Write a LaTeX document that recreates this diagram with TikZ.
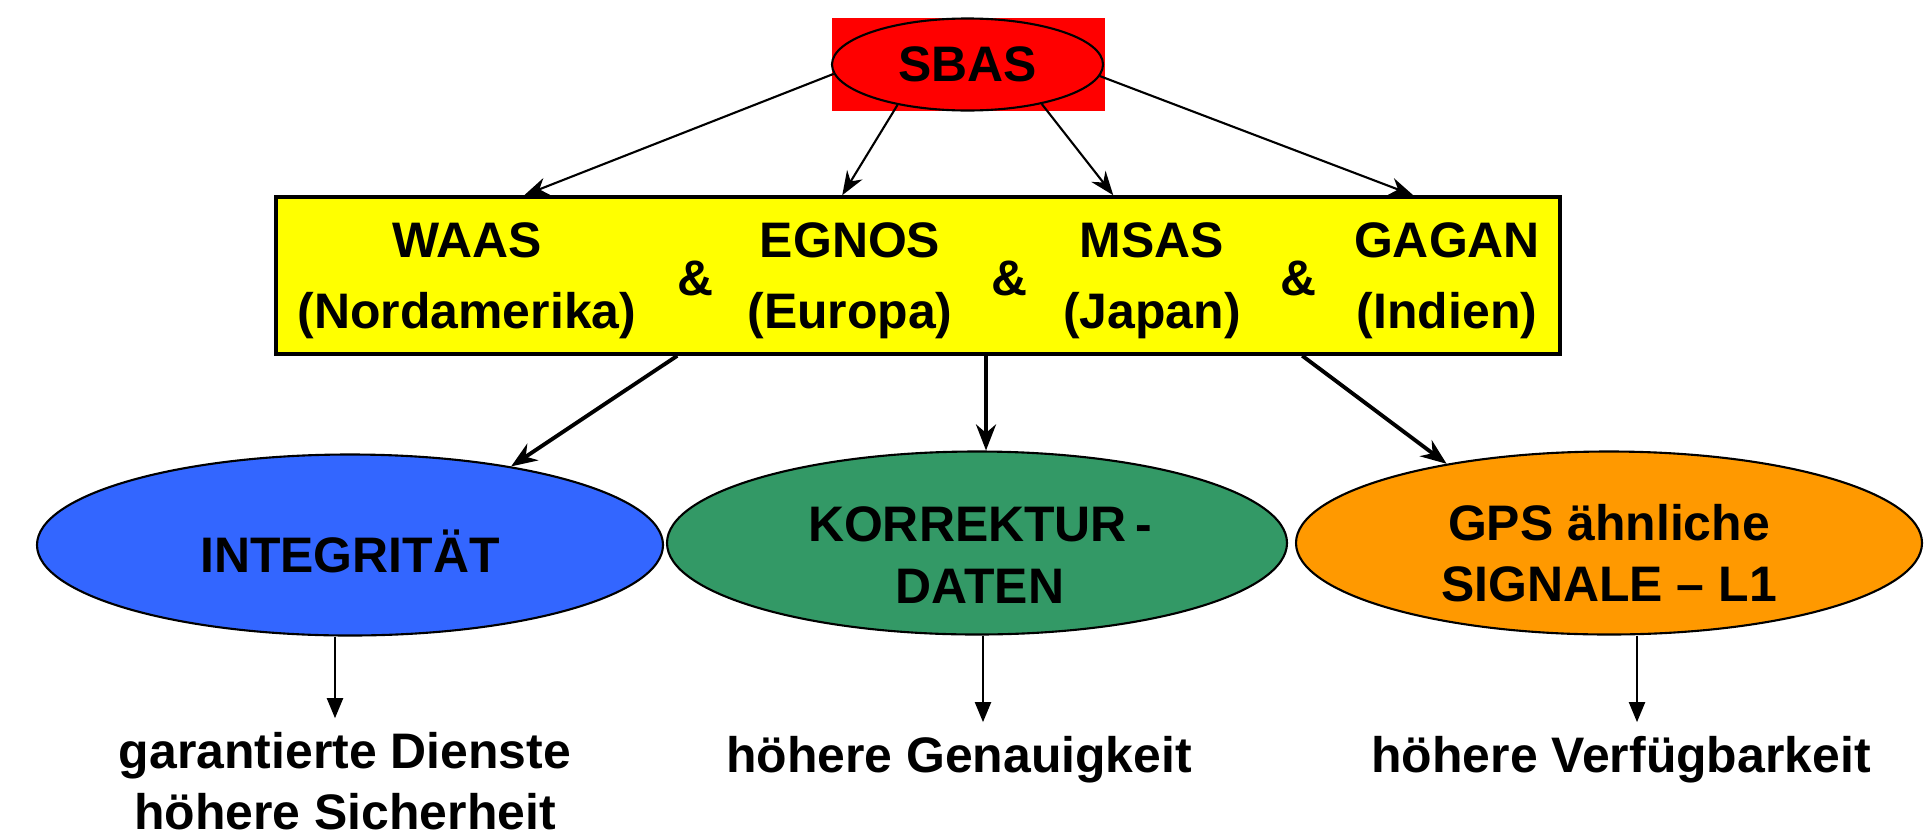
\documentclass[tikz,border=0pt]{standalone}
\usepackage{fontspec}
\setmainfont{Liberation Sans}
\usetikzlibrary{shapes.geometric, arrows.meta, positioning, calc}

\definecolor{sbasred}{RGB}{255,0,0}
\definecolor{sysyellow}{RGB}{255,255,0}
\definecolor{intblue}{RGB}{51,102,255}
\definecolor{korgreen}{RGB}{51,153,102}
\definecolor{gpsorange}{RGB}{255,153,0}

\begin{document}
\begin{tikzpicture}[
    txt/.style={font=\fontsize{14.2}{17.5}\selectfont\bfseries, align=center, inner sep=0pt},
    systxt/.style={font=\fontsize{14.2}{20.1}\selectfont\bfseries, align=center, inner sep=0pt},
    result/.style={txt, inner ysep=1.3mm},
    oval/.style={ellipse, draw, line width=0.6pt, inner sep=0pt},
    thin arrow/.style={-{Stealth[length=2.4mm, width=1.8mm]}, line width=0.6pt},
    thick arrow/.style={-{Stealth[length=2.6mm, width=2mm]}, line width=1.1pt},
    down arrow/.style={-{Triangle[length=2mm, width=1.6mm]}, line width=0.6pt}
]
\useasboundingbox (0,0) rectangle (19.26,8.39);
\node[fill=sbasred, minimum width=2.73cm, minimum height=0.93cm, inner sep=0pt] (sbasbox) at (9.685, 7.745) {};
\node[oval, txt, fill=sbasred, minimum width=2.71cm, minimum height=0.92cm] (sbas) at (9.675, 7.745) {SBAS};
\node[draw, line width=1pt, fill=sysyellow, minimum width=12.84cm, minimum height=1.57cm] (sys) at (9.18, 5.635) {};
\node[systxt] (waas) at (4.67, 5.58) {WAAS\\(Nordamerika)};
\node[systxt] (egnos) at (8.50, 5.58) {EGNOS\\(Europa)};
\node[systxt] (msas) at (11.52, 5.58) {MSAS\\(Japan)};
\node[systxt] (gagan) at (14.47, 5.58) {GAGAN\\(Indien)};
\node[txt, anchor=base] (amp1) at (6.96, 5.44) {\&};
\node[txt, anchor=base] (amp2) at (10.10, 5.44) {\&};
\node[txt, anchor=base] (amp3) at (12.98, 5.44) {\&};
\node[oval, fill=intblue, minimum width=6.26cm, minimum height=1.81cm] (integ) at (3.50, 2.94) {};
\node[oval, fill=korgreen, minimum width=6.20cm, minimum height=1.83cm] (korr) at (9.77, 2.96) {};
\node[oval, fill=gpsorange, minimum width=6.26cm, minimum height=1.83cm] (gps) at (16.09, 2.96) {};
\node[txt] (integtxt) at (3.50, 2.875) {INTEGRITÄT};
\node[txt] (korrtxt) at (9.80, 2.84) {KORREKTUR\,-\\DATEN};
\node[txt] (gpstxt) at (16.09, 2.86) {GPS ähnliche\\SIGNALE – L1};
\node[result] (dienste) at (3.45, 0.58) {garantierte Dienste\\höhere Sicherheit};
\node[result, anchor=base] (genau) at (9.59, 0.67) {höhere Genauigkeit};
\node[result, anchor=base] (verfueg) at (16.21, 0.67) {höhere Verfügbarkeit};
\draw[thin arrow] (sbas.184) -- ([xshift=2.50cm]sys.north west);
\draw[thin arrow] (sbas.210) -- ([xshift=5.68cm]sys.north west);
\draw[thin arrow] (sbas.332) -- ([xshift=8.39cm]sys.north west);
\draw[thin arrow] (sbas.355) -- ([xshift=11.39cm]sys.north west);
\draw[thick arrow] ([xshift=4.03cm]sys.south west) -- (integ.26);
\draw[thick arrow] ([xshift=0.9mm]korr.north |- sys.south) -- ([xshift=0.9mm]korr.north);
\draw[thick arrow] ([xshift=10.28cm]sys.south west) -- (gps.154);
\draw[down arrow] ([xshift=-1.5mm]integ.south) -- ([xshift=-1.5mm]integ.south |- dienste.north);
\draw[down arrow] ([xshift=0.6mm]korr.south) -- ([xshift=0.6mm]korr.south |- genau.north);
\draw[down arrow] ([xshift=2.8mm]gps.south) -- ([xshift=2.8mm]gps.south |- verfueg.north);
\end{tikzpicture}
\end{document}
